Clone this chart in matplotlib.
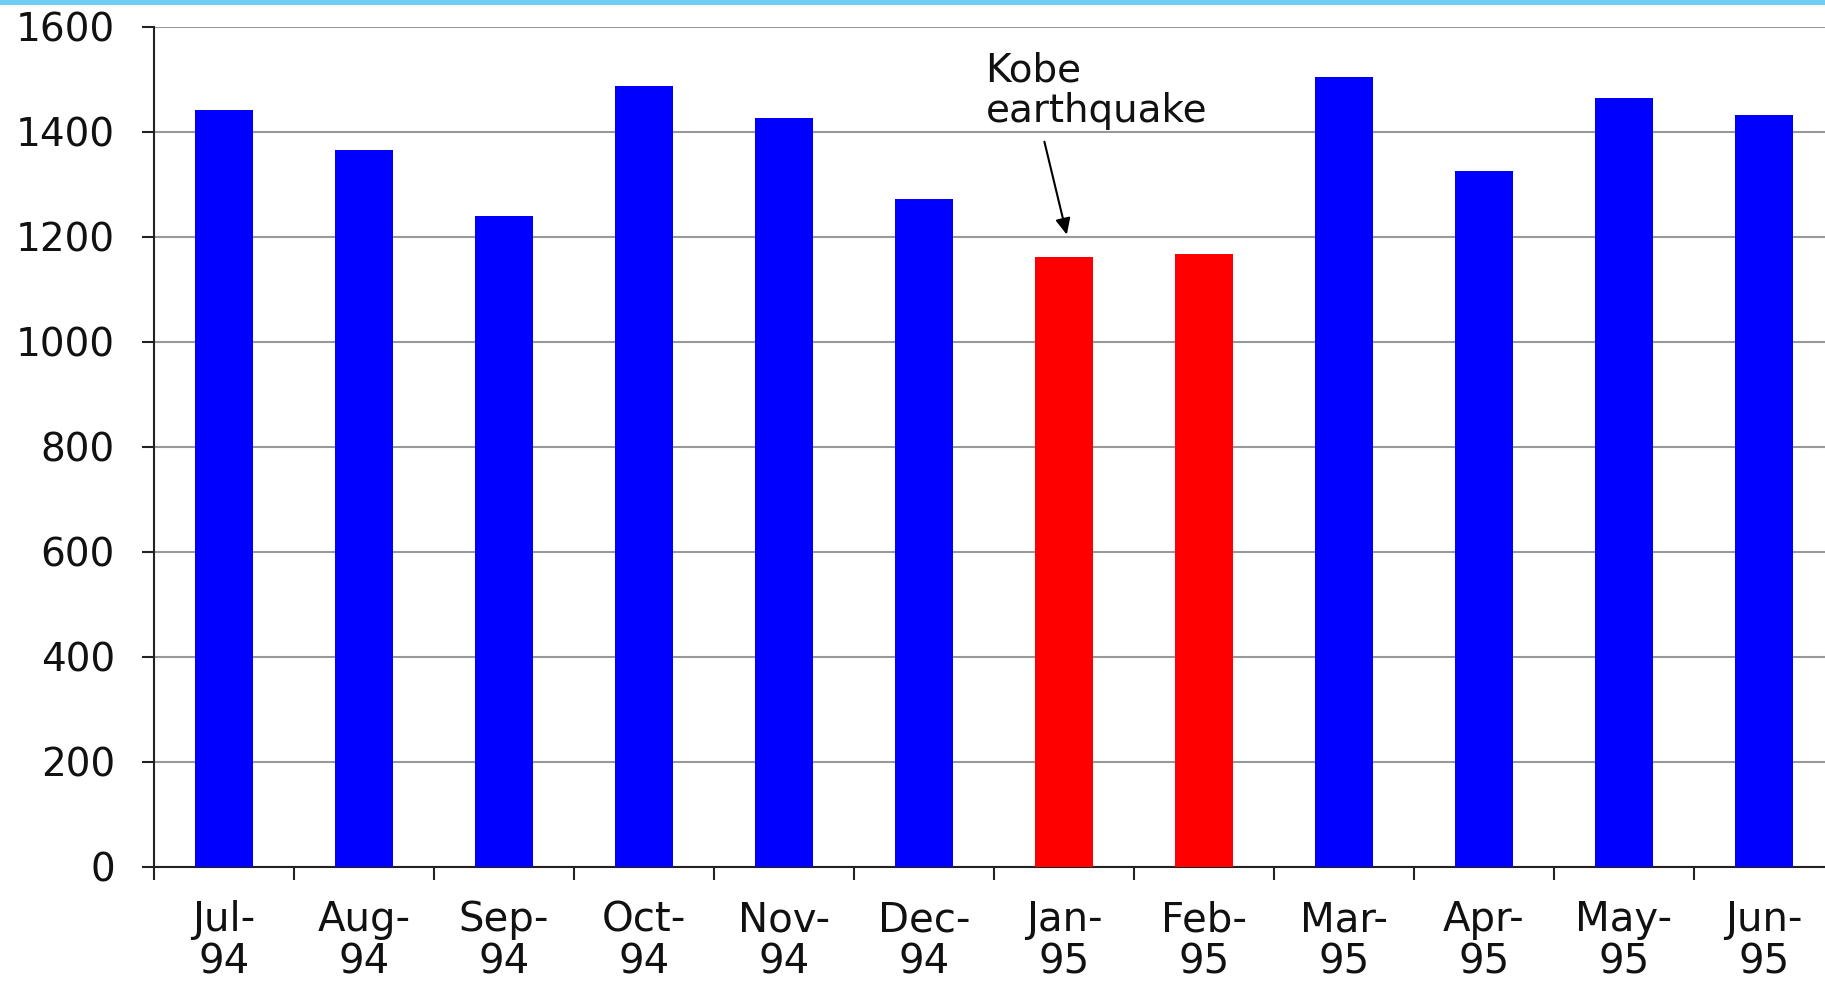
import matplotlib
matplotlib.use('Agg')
import matplotlib.pyplot as plt
from matplotlib.patches import Rectangle

# monthly totals, Jul-94 .. Jun-95
months = ['Jul-\n94', 'Aug-\n94', 'Sep-\n94', 'Oct-\n94', 'Nov-\n94', 'Dec-\n94',
          'Jan-\n95', 'Feb-\n95', 'Mar-\n95', 'Apr-\n95', 'May-\n95', 'Jun-\n95']
values = [1442, 1366, 1239, 1487, 1427, 1272, 1161, 1168, 1505, 1326, 1465, 1432]
quake_months = ['Jan-\n95', 'Feb-\n95']
y_ticks = [0, 200, 400, 600, 800, 1000, 1200, 1400, 1600]

plt.rcParams['font.family'] = 'DejaVu Sans'

fig = plt.figure(figsize=(18.25, 9.84), dpi=100)
fig.patch.set_facecolor('white')

# thin banner along the top edge
fig.patches.append(Rectangle((0, 0.9945), 1, 0.0055, transform=fig.transFigure,
                             facecolor='#6fcdf3', edgecolor='none', zorder=5))

# axes run past the right edge of the canvas
ax = fig.add_axes([154 / 1825, 117 / 984, 1680 / 1825, 840.3 / 984])

colors = ['#ff0000' if m in quake_months else '#0000ff' for m in months]
x = list(range(len(months)))
ax.bar(x, values, width=0.42, color=colors, zorder=3)

ax.set_xlim(-0.5, len(months) - 0.5)
ax.set_ylim(0, 1600)
ax.set_yticks(y_ticks)
ax.set_yticklabels([str(v) for v in y_ticks])
ax.yaxis.grid(True, color='#999999', linewidth=1.5, zorder=0)
ax.set_axisbelow(True)

# category labels sit between boundary ticks
ax.set_xticks([i - 0.5 for i in range(len(months))])
ax.set_xticklabels([])
ax.set_xticks(x, minor=True)
ax.set_xticklabels(months, minor=True, fontsize=29, color='#111111', linespacing=1.08)
ax.tick_params(axis='x', which='minor', length=0, pad=24)
ax.tick_params(axis='x', which='major', length=9, width=1.5, color='#222222', direction='out')
ax.tick_params(axis='y', length=9, width=1.5, color='#222222', direction='out',
               labelsize=28, labelcolor='#111111', pad=19)

for side in ['top', 'right']:
    ax.spines[side].set_visible(False)
for side in ['left', 'bottom']:
    ax.spines[side].set_color('#222222')
    ax.spines[side].set_linewidth(1.5)

ax.text(5.44, 1552, 'Kobe\nearthquake', fontsize=28, color='#111111',
        ha='left', va='top', linespacing=1.08, zorder=4)
ax.annotate('', xy=(6.02, 1204), xytext=(5.86, 1381),
            arrowprops=dict(arrowstyle='-|>,head_length=0.65,head_width=0.3',
                            mutation_scale=15, color='black', lw=1.5,
                            shrinkA=0, shrinkB=0), zorder=4)

fig.savefig('out.png', dpi=100)
